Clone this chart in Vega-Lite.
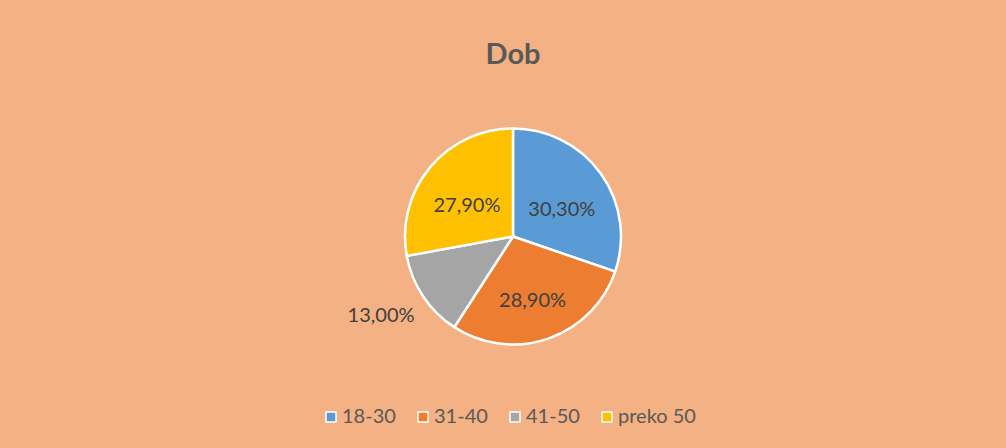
{
  "$schema": "https://vega.github.io/schema/vega-lite/v6.json",
  "autosize": {"type": "none"},
  "padding": {"left": 7, "top": 11, "right": -13, "bottom": -14},
  "width": 1012,
  "height": 451,
  "background": "#F4B183",
  "title": {
    "text": "Dob",
    "font": "Lato",
    "fontSize": 29,
    "fontWeight": "bold",
    "color": "#595959",
    "anchor": "middle",
    "baseline": "alphabetic",
    "offset": -82
  },
  "data": {
    "values": [
      {"group": "18-30", "value": 30.3, "label": "30,30%"},
      {"group": "31-40", "value": 28.9, "label": "28,90%"},
      {"group": "41-50", "value": 13.0, "label": "13,00%"},
      {"group": "preko 50", "value": 27.9, "label": "27,90%"}
    ]
  },
  "encoding": {
    "theta": {"field": "value", "type": "quantitative", "stack": true},
    "order": {"field": "group", "type": "ordinal", "sort": "ascending"}
  },
  "layer": [
    {
      "mark": {"type": "arc", "radius": 108, "stroke": "white", "strokeWidth": 2.5},
      "encoding": {
        "color": {
          "field": "group",
          "type": "nominal",
          "scale": {
            "domain": ["18-30", "31-40", "41-50", "preko 50"],
            "range": ["#5B9BD5", "#ED7D31", "#A5A5A5", "#FFC000"]
          },
          "legend": {
            "title": null,
            "orient": "none",
            "legendX": 314,
            "legendY": 396,
            "direction": "horizontal",
            "columns": 4,
            "symbolType": "square",
            "symbolSize": 100,
            "symbolStrokeColor": "white",
            "symbolStrokeWidth": 1.5,
            "symbolOpacity": 1,
            "labelFont": "Lato",
            "labelFontSize": 20,
            "labelColor": "#595959",
            "labelOffset": 1,
            "columnPadding": 17
          }
        }
      }
    },
    {
      "mark": {"type": "text", "radius": 60, "dy": 8, "font": "Lato", "fontSize": 20, "fill": "#404040"},
      "encoding": {
        "text": {"condition": {"test": "datum.value >= 20", "field": "label"}, "value": ""}
      }
    },
    {
      "mark": {"type": "text", "radius": 155, "dx": -3, "dy": -7, "font": "Lato", "fontSize": 20, "fill": "#404040"},
      "encoding": {
        "text": {"condition": {"test": "datum.value < 20", "field": "label"}, "value": ""}
      }
    }
  ]
}
